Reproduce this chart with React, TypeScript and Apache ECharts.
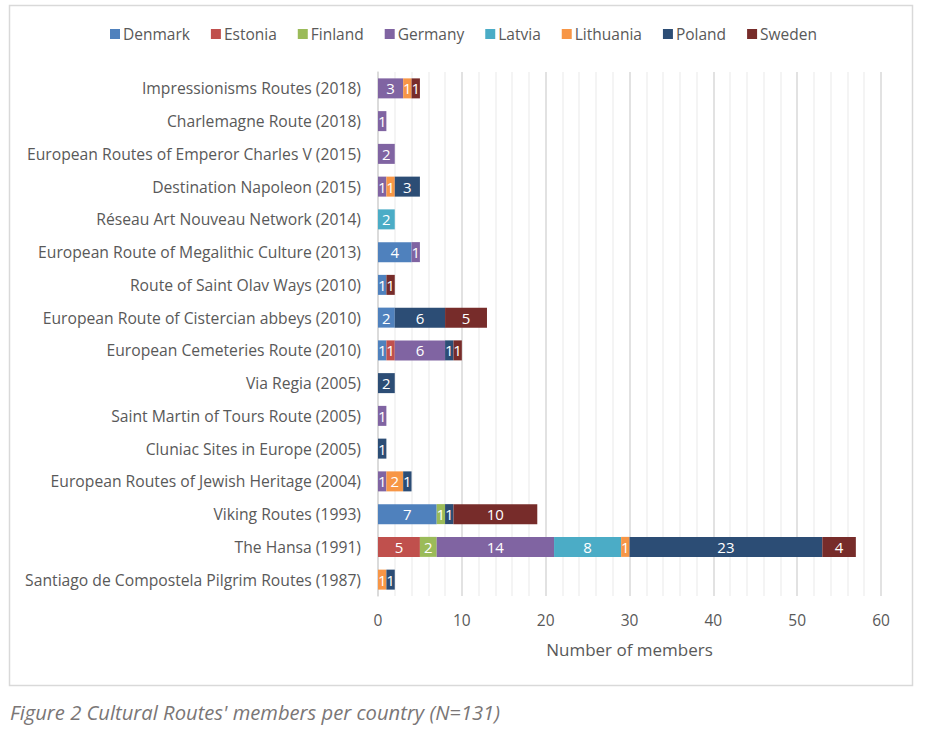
import React, { useEffect, useRef } from "react";
import * as echarts from "echarts";

const routes = [
  "Impressionisms Routes (2018)",
  "Charlemagne Route (2018)",
  "European Routes of Emperor Charles V (2015)",
  "Destination Napoleon (2015)",
  "Réseau Art Nouveau Network (2014)",
  "European Route of Megalithic Culture (2013)",
  "Route of Saint Olav Ways (2010)",
  "European Route of Cistercian abbeys (2010)",
  "European Cemeteries Route (2010)",
  "Via Regia (2005)",
  "Saint Martin of Tours Route (2005)",
  "Cluniac Sites in Europe (2005)",
  "European Routes of Jewish Heritage (2004)",
  "Viking Routes (1993)",
  "The Hansa (1991)",
  "Santiago de Compostela Pilgrim Routes (1987)",
];

const countries = ["Denmark", "Estonia", "Finland", "Germany", "Latvia", "Lithuania", "Poland", "Sweden"];
const colors = ["#4F81BD", "#C0504D", "#9BBB59", "#8064A2", "#4BACC6", "#F79646", "#2C4D75", "#772C2A"];

const denmark = [0, 0, 0, 0, 0, 4, 1, 2, 1, 0, 0, 0, 0, 7, 0, 0];
const estonia = [0, 0, 0, 0, 0, 0, 0, 0, 1, 0, 0, 0, 0, 0, 5, 0];
const finland = [0, 0, 0, 0, 0, 0, 0, 0, 0, 0, 0, 0, 0, 1, 2, 0];
const germany = [3, 1, 2, 1, 0, 1, 0, 0, 6, 0, 1, 0, 1, 0, 14, 0];
const latvia = [0, 0, 0, 0, 2, 0, 0, 0, 0, 0, 0, 0, 0, 0, 8, 0];
const lithuania = [1, 0, 0, 1, 0, 0, 0, 0, 0, 0, 0, 0, 2, 0, 1, 1];
const poland = [0, 0, 0, 3, 0, 0, 0, 6, 1, 2, 0, 1, 1, 1, 23, 1];
const sweden = [1, 0, 0, 0, 0, 0, 1, 5, 1, 0, 0, 0, 0, 10, 4, 0];

const seriesValues = [denmark, estonia, finland, germany, latvia, lithuania, poland, sweden];
const xTicks = [0, 10, 20, 30, 40, 50, 60];

const FONT = "'Open Sans', sans-serif";

export default function App() {
  const ref = useRef<HTMLDivElement>(null);
  useEffect(() => {
    if (!ref.current) return;
    const chart = echarts.init(ref.current, undefined, { renderer: "svg" });
    chart.setOption({
      animation: false,
      backgroundColor: "#ffffff",
      textStyle: { fontFamily: FONT },
      legend: {
        top: 21,
        left: "center",
        itemWidth: 10,
        itemHeight: 10,
        itemGap: 21,
        icon: "rect",
        textStyle: { color: "#595959", fontSize: 15.5, fontFamily: FONT, padding: [0, 0, 0, -2] },
        data: countries,
      },
      grid: { left: 378, right: 46, top: 72, bottom: 137, containLabel: false },
      xAxis: {
        type: "value",
        min: xTicks[0],
        max: xTicks[xTicks.length - 1],
        interval: 10,
        name: "Number of members",
        nameLocation: "middle",
        nameGap: 45,
        nameTextStyle: { color: "#595959", fontSize: 17, fontFamily: FONT },
        axisLine: { show: false },
        axisTick: { show: false },
        axisLabel: { color: "#595959", fontSize: 15.5, fontFamily: FONT, margin: 16 },
        splitLine: { show: true, lineStyle: { color: "#d9d9d9", width: 1.5 } },
        minorTick: { show: false, splitNumber: 5 },
        minorSplitLine: { show: true, lineStyle: { color: "#f0f0f0", width: 1.5 } },
      },
      yAxis: {
        type: "category",
        inverse: true,
        data: routes,
        axisLine: { show: true, lineStyle: { color: "#d9d9d9", width: 1.5 } },
        axisTick: { show: false },
        axisLabel: { color: "#595959", fontSize: 15.7, fontFamily: FONT, margin: 17 },
      },
      series: countries.map((c, i) => ({
        name: c,
        type: "bar",
        stack: "total",
        barWidth: 20,
        itemStyle: { color: colors[i] },
        label: {
          show: true,
          position: "inside",
          color: "#ffffff",
          fontSize: 15,
          fontFamily: FONT,
        },
        data: seriesValues[i].map((v) => (v === 0 ? "-" : v)),
      })),
      graphic: [
        {
          type: "rect",
          shape: { x: 9.5, y: 5.5, width: 903, height: 680 },
          style: { fill: "none", stroke: "#d9d9d9", lineWidth: 1.5 },
          silent: true,
        },
        {
          type: "text",
          left: 10,
          top: 702,
          style: {
            text: "Figure 2 Cultural Routes' members per country (N=131)",
            fill: "#7a7676",
            font: "italic 20.2px 'Open Sans', sans-serif",
          },
        },
      ],
    });
    return () => chart.dispose();
  }, []);
  return (
    <div
      ref={ref}
      style={{ position: "absolute", left: 0, top: 0, width: 927, height: 733 }}
    />
  );
}
